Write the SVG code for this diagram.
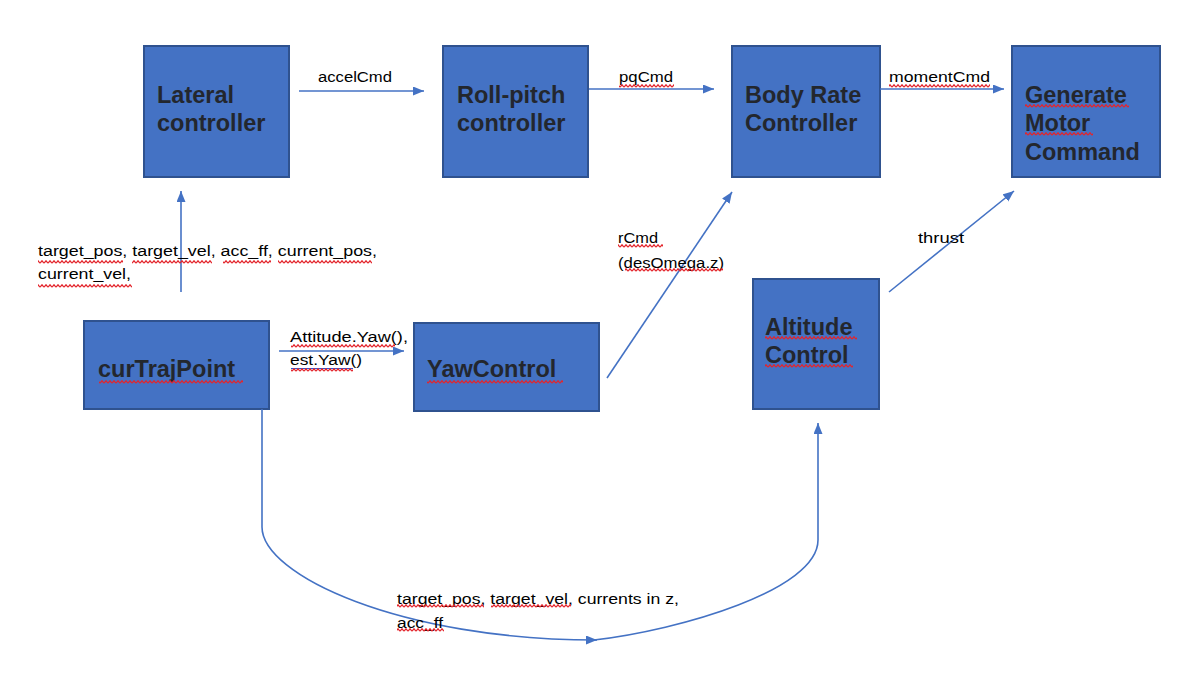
<svg xmlns="http://www.w3.org/2000/svg" width="1196" height="678" viewBox="0 0 1196 678">
<style>
.box{fill:#4472C4;stroke:#2F528F;stroke-width:2}
.bt{font-family:"Liberation Sans",Arial,sans-serif;font-weight:bold;font-size:23.5px;fill:#23272e}
.lb{font-family:"Liberation Sans",Arial,sans-serif;font-size:15.5px;fill:#000}
.cn{fill:none;stroke:#4472C4;stroke-width:1.6}
.sq{fill:url(#sq)}
</style>
<defs>
<marker id="ah" markerUnits="userSpaceOnUse" markerWidth="12" markerHeight="10" refX="11" refY="4.5" orient="auto">
<path d="M0,0 L11,4.5 L0,9 z" fill="#4472C4"/>
</marker>
<pattern id="sq" patternUnits="userSpaceOnUse" width="4" height="4">
<path d="M0,3.2 L2,0.8 L4,3.2" fill="none" stroke="#e3242b" stroke-width="1.3"/>
</pattern>
</defs>
<rect width="1196" height="678" fill="#fff"/>

<g id="lateral">
<rect class="box" x="144" y="46" width="145" height="131"/>
<text class="bt" x="157" y="103">Lateral</text>
<text class="bt" x="157" y="131">controller</text>
</g>
<g id="rollpitch">
<rect class="box" x="443" y="46" width="145" height="131"/>
<text class="bt" x="457" y="103">Roll-pitch</text>
<text class="bt" x="457" y="131">controller</text>
</g>
<g id="bodyrate">
<rect class="box" x="732" y="46" width="148" height="131"/>
<text class="bt" x="745" y="103">Body Rate</text>
<text class="bt" x="745" y="131">Controller</text>
</g>
<g id="generate">
<rect class="box" x="1012" y="46" width="148" height="131"/>
<text class="bt" x="1025" y="103">Generate</text>
<text class="bt" x="1025" y="131">Motor</text>
<text class="bt" x="1025" y="160">Command</text>
</g>
<g id="curtraj">
<rect class="box" x="84" y="321" width="185" height="88"/>
<text class="bt" x="98" y="377">curTrajPoint</text>
</g>
<g id="yaw">
<rect class="box" x="414" y="323" width="185" height="88"/>
<text class="bt" x="427" y="377">YawControl</text>
</g>
<g id="altitude">
<rect class="box" x="753" y="279" width="126" height="130"/>
<text class="bt" x="765" y="335">Altitude</text>
<text class="bt" x="765" y="363">Control</text>
</g>

<g id="connectors">
<path class="cn" d="M299,91 L424,91" marker-end="url(#ah)"/>
<path class="cn" d="M589,89 L714,89" marker-end="url(#ah)"/>
<path class="cn" d="M880,89 L1004,89" marker-end="url(#ah)"/>
<path class="cn" d="M181,292 L181,191" marker-end="url(#ah)"/>
<path class="cn" d="M279,351 L404,351" marker-end="url(#ah)"/>
<path class="cn" d="M607,378 L732,192" marker-end="url(#ah)"/>
<path class="cn" d="M889,292 L1014,191" marker-end="url(#ah)"/>
<path class="cn" d="M262,409 L262,527 C262,575 400,640 597,640" marker-end="url(#ah)"/>
<path class="cn" d="M594,640 C680,630 818,590 818,540 L818,423" marker-end="url(#ah)"/>
</g>

<g id="labels">
<text class="lb" x="318" y="82" textLength="74" lengthAdjust="spacingAndGlyphs">accelCmd</text>
<text class="lb" x="619" y="82" textLength="54" lengthAdjust="spacingAndGlyphs">pqCmd</text>
<text class="lb" x="889" y="82" textLength="101" lengthAdjust="spacingAndGlyphs">momentCmd</text>
<text class="lb" x="38" y="256" textLength="339" lengthAdjust="spacingAndGlyphs">target_pos, target_vel, acc_ff, current_pos,</text>
<text class="lb" x="38" y="279" textLength="93" lengthAdjust="spacingAndGlyphs">current_vel,</text>
<text class="lb" x="290" y="342" textLength="118" lengthAdjust="spacingAndGlyphs">Attitude.Yaw(),</text>
<text class="lb" x="290" y="365" textLength="72" lengthAdjust="spacingAndGlyphs">est.Yaw()</text>
<text class="lb" x="618" y="243" textLength="40" lengthAdjust="spacingAndGlyphs">rCmd</text>
<text class="lb" x="618" y="268" textLength="106" lengthAdjust="spacingAndGlyphs">(desOmega.z)</text>
<text class="lb" x="918" y="243" textLength="46" lengthAdjust="spacingAndGlyphs">thrust</text>
<text class="lb" x="397" y="604" textLength="282" lengthAdjust="spacingAndGlyphs">target_pos, target_vel, currents in z,</text>
<text class="lb" x="397" y="628" textLength="46" lengthAdjust="spacingAndGlyphs">acc_ff</text>
</g>

<g id="spellcheck">
<rect class="sq" x="619" y="84" width="55" height="4"/>
<rect class="sq" x="889" y="84" width="101" height="4"/>
<rect class="sq" x="1025" y="104" width="104" height="4"/>
<rect class="sq" x="1025" y="132" width="68" height="4"/>
<rect class="sq" x="38" y="260" width="85" height="4"/>
<rect class="sq" x="132" y="260" width="80" height="4"/>
<rect class="sq" x="223" y="260" width="48" height="4"/>
<rect class="sq" x="278" y="260" width="94" height="4"/>
<rect class="sq" x="38" y="284" width="94" height="4"/>
<rect class="sq" x="99" y="380" width="144" height="4"/>
<rect class="sq" x="291" y="344" width="104" height="4"/>
<line x1="291" y1="368.5" x2="353" y2="368.5" stroke="#2a5bd7" stroke-width="1.2"/>
<rect class="sq" x="291" y="368" width="62" height="4"/>
<rect class="sq" x="427" y="380" width="136" height="4"/>
<rect class="sq" x="618" y="244" width="45" height="4"/>
<rect class="sq" x="625" y="268" width="98" height="4"/>
<rect class="sq" x="765" y="336" width="92" height="4"/>
<rect class="sq" x="765" y="364" width="88" height="4"/>
<rect class="sq" x="397" y="604" width="87" height="4"/>
<rect class="sq" x="491" y="604" width="80" height="4"/>
<rect class="sq" x="397" y="628" width="47" height="4"/>
</g>
</svg>
